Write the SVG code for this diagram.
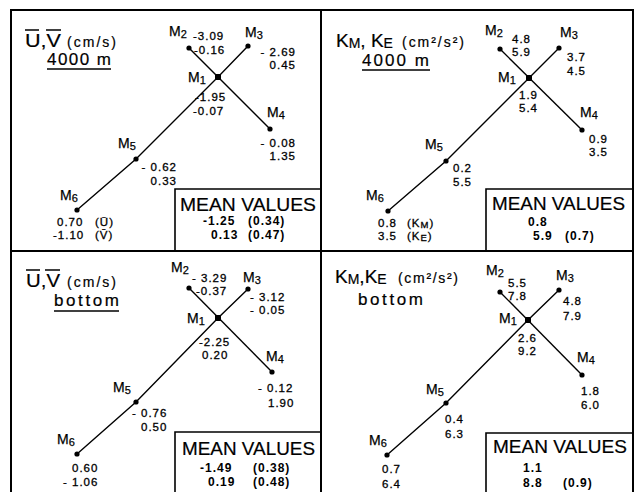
<svg xmlns="http://www.w3.org/2000/svg" width="640" height="492" viewBox="0 0 640 492">
<style>
text{font-family:"Liberation Sans",Arial,sans-serif;fill:#000}
.frame{stroke:#000;stroke-width:2;fill:none}
.box{stroke:#000;stroke-width:1.6;fill:none}
.conn{stroke:#000;stroke-width:1.4;fill:none}
.ul{stroke:#000;stroke-width:1.5}
.dot{fill:#000}
.m{font-size:14px;stroke:#000;stroke-width:0.25}
.sub{font-size:11px}
.ssub{font-size:9.5px}
.v{font-size:11.5px;letter-spacing:1px;stroke:#000;stroke-width:0.3}
.ve{font-size:11.5px;letter-spacing:1px;text-anchor:end;stroke:#000;stroke-width:0.3}
.mv{font-size:19px;stroke:#000;stroke-width:0.2}
.mn{font-size:12px;font-weight:bold;letter-spacing:1px}
.t{font-size:19px;stroke:#000;stroke-width:0.2}
.tm{font-size:14px}
.tu{font-size:14px;stroke:#000;stroke-width:0.2}
.tt{font-size:17px;stroke:#000;stroke-width:0.2}
</style>
<rect width="640" height="492" fill="#fff"/>
<g id="frame">
<path class="frame" d="M11,492 V10 H633 V492 M321,10 V492 M11,251 H633"/>
</g>

<!-- ============ Panel 1 ============ -->
<g id="p1-title">
<text class="t" x="25" y="47" textLength="36" lengthAdjust="spacingAndGlyphs">U,V</text>
<line class="ul" x1="25" y1="30" x2="39" y2="30"/>
<line class="ul" x1="46" y1="30" x2="61" y2="30"/>
<text class="tu" x="67" y="47" textLength="49">(cm/s)</text>
<text class="tt" x="47" y="65" textLength="64">4000 m</text>
<line class="ul" x1="47" y1="69" x2="111" y2="69"/>
</g>
<g id="p1-connectors">
<polyline class="conn" points="77,210 136,159 218,77 248,46"/>
<line class="conn" x1="189" y1="48" x2="270" y2="129"/>
</g>
<g id="p1-m1">
<rect class="dot" x="215" y="74" width="6" height="6"/>
<text class="m" x="188" y="82">M<tspan class="sub" dy="2">1</tspan></text>
<text class="v" x="195" y="101">-1.95</text>
<text class="v" x="193" y="115">-0.07</text>
</g>
<g id="p1-m2">
<circle class="dot" cx="189" cy="48" r="2.6"/>
<text class="m" x="169" y="36">M<tspan class="sub" dy="2">2</tspan></text>
<text class="v" x="193" y="40">-3.09</text>
<text class="v" x="194" y="54">-0.16</text>
</g>
<g id="p1-m3">
<circle class="dot" cx="248" cy="46" r="2.6"/>
<text class="m" x="245" y="37">M<tspan class="sub" dy="2">3</tspan></text>
<text class="ve" x="296" y="56">- 2.69</text>
<text class="ve" x="296" y="69">0.45</text>
</g>
<g id="p1-m4">
<circle class="dot" cx="270" cy="129" r="2.6"/>
<text class="m" x="267" y="117">M<tspan class="sub" dy="2">4</tspan></text>
<text class="ve" x="296" y="147">- 0.08</text>
<text class="ve" x="296" y="160">1.35</text>
</g>
<g id="p1-m5">
<circle class="dot" cx="136" cy="159" r="2.6"/>
<text class="m" x="118" y="148">M<tspan class="sub" dy="2">5</tspan></text>
<text class="ve" x="177" y="171">- 0.62</text>
<text class="ve" x="177" y="185">0.33</text>
</g>
<g id="p1-m6">
<circle class="dot" cx="77" cy="210" r="2.6"/>
<text class="m" x="60" y="200">M<tspan class="sub" dy="2">6</tspan></text>
<text class="v" y="226"><tspan x="57">0.70</tspan><tspan x="95">(Ū)</tspan></text>
<text class="v" y="239"><tspan x="53">-1.10</tspan><tspan x="95">(V̄)</tspan></text>
</g>
<g id="p1-mean">
<path class="box" d="M175,251 V189 H321"/>
<text class="mv" x="180" y="211" textLength="136" lengthAdjust="spacingAndGlyphs">MEAN VALUES</text>
<text class="mn" y="225"><tspan x="203">-1.25</tspan><tspan x="248">(0.34)</tspan></text>
<text class="mn" y="239"><tspan x="211">0.13</tspan><tspan x="248">(0.47)</tspan></text>
</g>

<!-- ============ Panel 2 ============ -->
<g id="p2-title">
<text class="t" x="336" y="47">K<tspan class="tm" dy="1">M</tspan><tspan dy="-1">, K</tspan><tspan class="tm" dy="1">E</tspan></text>
<text class="tu" x="402" y="47" textLength="62">(cm²/s²)</text>
<text class="tt" x="362" y="66" textLength="67">4000 m</text>
<line class="ul" x1="362" y1="70" x2="430" y2="70"/>
</g>
<g id="p2-connectors">
<polyline class="conn" points="388,211 446,161 529,78 559,48"/>
<line class="conn" x1="500" y1="49" x2="582" y2="130"/>
</g>
<g id="p2-m1">
<rect class="dot" x="526" y="75" width="6" height="6"/>
<text class="m" x="498" y="82">M<tspan class="sub" dy="2">1</tspan></text>
<text class="v" x="519" y="99">1.9</text>
<text class="v" x="519" y="112">5.4</text>
</g>
<g id="p2-m2">
<circle class="dot" cx="500" cy="49" r="2.6"/>
<text class="m" x="485" y="35">M<tspan class="sub" dy="2">2</tspan></text>
<text class="v" x="512" y="43">4.8</text>
<text class="v" x="512" y="56">5.9</text>
</g>
<g id="p2-m3">
<circle class="dot" cx="559" cy="48" r="2.6"/>
<text class="m" x="560" y="37">M<tspan class="sub" dy="2">3</tspan></text>
<text class="v" x="567" y="61">3.7</text>
<text class="v" x="567" y="75">4.5</text>
</g>
<g id="p2-m4">
<circle class="dot" cx="582" cy="130" r="2.6"/>
<text class="m" x="580" y="117">M<tspan class="sub" dy="2">4</tspan></text>
<text class="v" x="589" y="143">0.9</text>
<text class="v" x="589" y="156">3.5</text>
</g>
<g id="p2-m5">
<circle class="dot" cx="446" cy="161" r="2.6"/>
<text class="m" x="425" y="149">M<tspan class="sub" dy="2">5</tspan></text>
<text class="v" x="453" y="172">0.2</text>
<text class="v" x="453" y="186">5.5</text>
</g>
<g id="p2-m6">
<circle class="dot" cx="388" cy="211" r="2.6"/>
<text class="m" x="366" y="200">M<tspan class="sub" dy="2">6</tspan></text>
<text class="v" y="227"><tspan x="378">0.8</tspan><tspan x="407">(K</tspan><tspan class="ssub" dy="1">M</tspan><tspan dy="-1">)</tspan></text>
<text class="v" y="240"><tspan x="378">3.5</tspan><tspan x="407">(K</tspan><tspan class="ssub" dy="1">E</tspan><tspan dy="-1">)</tspan></text>
</g>
<g id="p2-mean">
<path class="box" d="M486,251 V189 H633"/>
<text class="mv" x="492" y="210" textLength="133" lengthAdjust="spacingAndGlyphs">MEAN VALUES</text>
<text class="mn" x="528" y="226">0.8</text>
<text class="mn" y="240"><tspan x="533">5.9</tspan><tspan x="565">(0.7)</tspan></text>
</g>

<!-- ============ Panel 3 ============ -->
<g id="p3-title">
<text class="t" x="26" y="287" textLength="34" lengthAdjust="spacingAndGlyphs">U,V</text>
<line class="ul" x1="26" y1="270" x2="40" y2="270"/>
<line class="ul" x1="45" y1="270" x2="60" y2="270"/>
<text class="tu" x="67" y="287" textLength="49">(cm/s)</text>
<text class="tt" x="54" y="306" textLength="65">bottom</text>
<line class="ul" x1="54" y1="311" x2="119" y2="311"/>
</g>
<g id="p3-connectors">
<polyline class="conn" points="77,454 136,402 218,318 248,289"/>
<line class="conn" x1="189" y1="288" x2="272" y2="372"/>
</g>
<g id="p3-m1">
<rect class="dot" x="215" y="315" width="6" height="6"/>
<text class="m" x="187" y="323">M<tspan class="sub" dy="2">1</tspan></text>
<text class="v" x="199" y="346">-2.25</text>
<text class="v" x="202" y="359">0.20</text>
</g>
<g id="p3-m2">
<circle class="dot" cx="189" cy="288" r="2.6"/>
<text class="m" x="171" y="272">M<tspan class="sub" dy="2">2</tspan></text>
<text class="v" x="192" y="282">- 3.29</text>
<text class="v" x="196" y="295">-0.37</text>
</g>
<g id="p3-m3">
<circle class="dot" cx="248" cy="289" r="2.6"/>
<text class="m" x="243" y="282">M<tspan class="sub" dy="2">3</tspan></text>
<text class="v" x="250" y="301">- 3.12</text>
<text class="v" x="250" y="314">- 0.05</text>
</g>
<g id="p3-m4">
<circle class="dot" cx="272" cy="372" r="2.6"/>
<text class="m" x="266" y="361">M<tspan class="sub" dy="2">4</tspan></text>
<text class="v" x="258" y="392">- 0.12</text>
<text class="v" x="268" y="407">1.90</text>
</g>
<g id="p3-m5">
<circle class="dot" cx="136" cy="402" r="2.6"/>
<text class="m" x="113" y="392">M<tspan class="sub" dy="2">5</tspan></text>
<text class="v" x="132" y="417">- 0.76</text>
<text class="v" x="141" y="431">0.50</text>
</g>
<g id="p3-m6">
<circle class="dot" cx="77" cy="454" r="2.6"/>
<text class="m" x="57" y="444">M<tspan class="sub" dy="2">6</tspan></text>
<text class="v" x="72" y="472">0.60</text>
<text class="v" x="63" y="486">- 1.06</text>
</g>
<g id="p3-mean">
<path class="box" d="M175,492 V432 H321"/>
<text class="mv" x="182" y="455" textLength="133" lengthAdjust="spacingAndGlyphs">MEAN VALUES</text>
<text class="mn" y="472"><tspan x="200">-1.49</tspan><tspan x="253">(0.38)</tspan></text>
<text class="mn" y="486"><tspan x="208">0.19</tspan><tspan x="253">(0.48)</tspan></text>
</g>

<!-- ============ Panel 4 ============ -->
<g id="p4-title">
<text class="t" x="335" y="283">K<tspan class="tm" dy="1">M</tspan><tspan dy="-1">,K</tspan><tspan class="tm" dy="1">E</tspan></text>
<text class="tu" x="398" y="283" textLength="60">(cm²/s²)</text>
<text class="tt" x="358" y="305" textLength="65">bottom</text>
</g>
<g id="p4-connectors">
<polyline class="conn" points="387,455 446,403 528,320 559,290"/>
<line class="conn" x1="500" y1="292" x2="582" y2="375"/>
</g>
<g id="p4-m1">
<rect class="dot" x="525" y="317" width="6" height="6"/>
<text class="m" x="499" y="323">M<tspan class="sub" dy="2">1</tspan></text>
<text class="v" x="518" y="342">2.6</text>
<text class="v" x="518" y="355">9.2</text>
</g>
<g id="p4-m2">
<circle class="dot" cx="500" cy="292" r="2.6"/>
<text class="m" x="486" y="275">M<tspan class="sub" dy="2">2</tspan></text>
<text class="v" x="508" y="287">5.5</text>
<text class="v" x="508" y="300">7.8</text>
</g>
<g id="p4-m3">
<circle class="dot" cx="559" cy="290" r="2.6"/>
<text class="m" x="556" y="280">M<tspan class="sub" dy="2">3</tspan></text>
<text class="v" x="563" y="305">4.8</text>
<text class="v" x="563" y="320">7.9</text>
</g>
<g id="p4-m4">
<circle class="dot" cx="582" cy="375" r="2.6"/>
<text class="m" x="577" y="362">M<tspan class="sub" dy="2">4</tspan></text>
<text class="v" x="581" y="395">1.8</text>
<text class="v" x="581" y="409">6.0</text>
</g>
<g id="p4-m5">
<circle class="dot" cx="446" cy="403" r="2.6"/>
<text class="m" x="426" y="394">M<tspan class="sub" dy="2">5</tspan></text>
<text class="v" x="445" y="423">0.4</text>
<text class="v" x="445" y="438">6.3</text>
</g>
<g id="p4-m6">
<circle class="dot" cx="387" cy="455" r="2.6"/>
<text class="m" x="369" y="445">M<tspan class="sub" dy="2">6</tspan></text>
<text class="v" x="382" y="473">0.7</text>
<text class="v" x="382" y="488">6.4</text>
</g>
<g id="p4-mean">
<path class="box" d="M486,492 V433 H633"/>
<text class="mv" x="493" y="453" textLength="134" lengthAdjust="spacingAndGlyphs">MEAN VALUES</text>
<text class="mn" x="523" y="472">1.1</text>
<text class="mn" y="487"><tspan x="523">8.8</tspan><tspan x="563">(0.9)</tspan></text>
</g>
</svg>
